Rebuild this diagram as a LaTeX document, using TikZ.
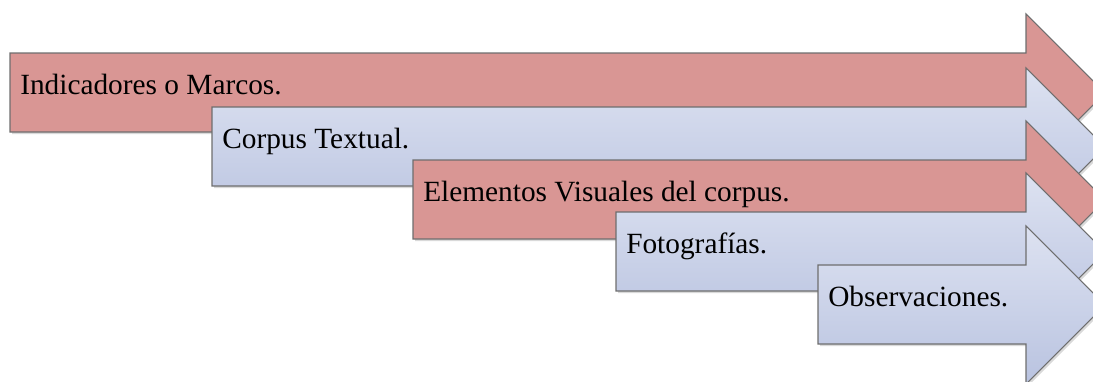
\documentclass[tikz,border=0pt]{standalone}
\usepackage{fontspec}
\setmainfont{Liberation Serif}
\usetikzlibrary{shadows}
\definecolor{rojo}{HTML}{D99694}
\definecolor{azulA}{HTML}{DDE2F1}
\definecolor{azulB}{HTML}{B9C3E0}
\definecolor{borde}{HTML}{6E6E6E}
\tikzset{
  flecha/.style={draw=borde,line width=0.8pt,
    drop shadow={opacity=0.3,shadow xshift=1.5pt,shadow yshift=-1.5pt}},
  roja/.style={flecha,fill=rojo},
  azul/.style={flecha,top color=azulA,bottom color=azulB},
  etiqueta/.style={anchor=base west,inner sep=0pt,font=\fontsize{22}{26}\selectfont}
}
\begin{document}
\begin{tikzpicture}[x=0.75pt,y=-0.75pt]
\useasboundingbox (0,0) rectangle (1093,382);
\clip (0,0) rectangle (1093,382);
% cada flecha: izquierda/arriba/estilo/nombre/texto
\foreach \l/\t/\estilo/\nombre/\texto in {
    10/53/roja/indicadores/{Indicadores o Marcos.},
    212/107/azul/corpus/{Corpus Textual.},
    413/160/roja/visuales/{Elementos Visuales del corpus.},
    616/212/azul/fotos/{Fotografías.},
    818/265/azul/observ/{Observaciones.}}{
  \draw[\estilo] (\l,\t) -- (1026,\t) -- (1026,\t-39) -- (1105,\t+40)
    -- (1026,\t+119) -- (1026,\t+79) -- (\l,\t+79) -- cycle;
  \node[etiqueta] (\nombre) at (\l+10,\t+41) {\texto};
}
\end{tikzpicture}
\end{document}
